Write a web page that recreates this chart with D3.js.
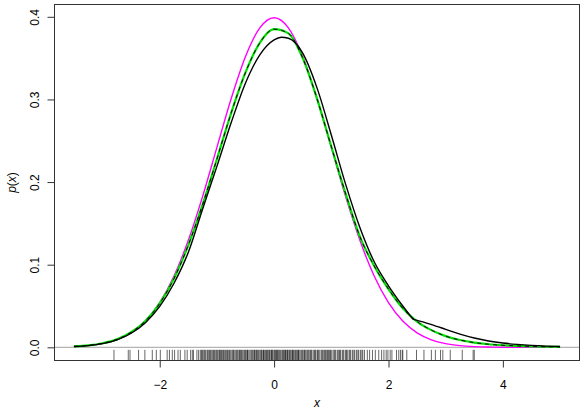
<!DOCTYPE html>
<html><head><meta charset="utf-8">
<script src="https://cdn.jsdelivr.net/npm/d3@7"></script>
<style>
body{margin:0;background:#fff;}
svg{display:block;font-family:"Liberation Sans",Arimo,Arial,Helvetica,sans-serif;}
</style></head>
<body>
<svg id="chart" width="581" height="411"></svg>
<script>
// ---- data ----
const xGrid = [-3.5,-3.25,-3,-2.75,-2.5,-2.25,-2,-1.75,-1.5,-1.25,-1,-0.75,-0.5,-0.25,0,
  0.25,0.5,0.75,1,1.25,1.5,1.75,2,2.25,2.5,2.75,3,3.25,3.5,3.75,4,4.25,4.5,4.75,5];
const magentaY = [0.00087,0.00203,0.00443,0.00909,0.01753,0.03174,0.05399,0.08628,0.12952,0.18265,0.24197,0.30114,0.35207,0.38667,0.39894,
  0.38667,0.35207,0.30114,0.24197,0.18265,0.12952,0.08628,0.05399,0.03174,0.01753,0.00909,0.00443,0.00203,0.00087,0.00035,0.00013,0.00005,0.00002,0.000005,0.0000015];
const greenY = [0.0011,0.0023,0.0049,0.0096,0.0182,0.0319,0.0532,0.0834,0.1238,0.1729,0.2279,0.2838,0.3327,0.3685,0.3850,
  0.3800,0.3500,0.3010,0.2430,0.1860,0.1340,0.0985,0.0705,0.0472,0.0312,0.0208,0.0135,0.0088,0.0057,0.0037,0.0025,0.0017,0.0011,0.0007,0.0005];
const blackX = [-3.5,-3.25,-3,-2.75,-2.5,-2.25,-2,-1.75,-1.5,-1.25,-1,-0.75,-0.5,-0.25,0,0.125,
  0.25,0.5,0.75,1,1.25,1.5,1.75,2,2.25,2.43,2.5,2.75,3,3.25,3.5,3.75,4,4.25,4.5,4.75,5];
const blackY = [0.0010,0.0021,0.0045,0.0090,0.0170,0.0298,0.0495,0.0775,0.1150,0.1675,0.2190,0.2720,0.3200,0.3540,0.3720,0.3752,
  0.3740,0.3560,0.3140,0.2570,0.1975,0.1450,0.1035,0.0745,0.0500,0.0338,0.0326,0.0275,0.0218,0.0160,0.0113,0.0077,0.0052,0.0035,0.0023,0.0015,0.0010];
const blackKinkX = 2.43;
const rugX = [-2.80,-2.55,-2.52,-2.37,-2.26,-2.13,-2.06,-1.99,-1.87,-1.83,-1.78,-1.74,-1.68,-1.64,-1.56,-1.52,-1.46,-1.43,-1.41,-1.35,-1.32,
  -1.29,-1.27,-1.24,-1.22,-1.19,-1.15,-1.13,-1.10,-1.08,-1.06,-1.03,-1.01,-0.98,-0.96,-0.95,-0.92,-0.90,-0.87,-0.85,-0.83,-0.80,-0.78,
  -0.74,-0.72,-0.70,-0.68,-0.66,-0.63,-0.61,-0.60,-0.57,-0.55,-0.53,-0.50,-0.48,-0.46,-0.44,-0.42,-0.40,-0.37,-0.35,-0.33,-0.31,-0.30,
  -0.27,-0.25,-0.23,-0.21,-0.19,-0.17,-0.15,-0.13,-0.11,-0.09,-0.07,-0.05,-0.04,-0.02,0.00,0.02,0.04,0.05,0.07,0.09,0.12,0.14,0.16,
  0.18,0.20,0.22,0.24,0.26,0.28,0.30,0.32,0.34,0.36,0.39,0.41,0.43,0.45,0.47,0.50,0.52,0.54,0.56,0.58,0.61,0.63,0.65,0.68,0.70,0.72,
  0.75,0.77,0.79,0.82,0.85,0.87,0.90,0.92,0.95,0.97,1.00,1.03,1.05,1.08,1.11,1.13,1.16,1.19,1.22,1.25,1.28,1.31,1.34,1.37,1.41,1.44,
  1.48,1.51,1.55,1.58,1.63,1.67,1.72,1.77,1.83,1.88,1.92,1.96,1.99,2.03,2.06,2.14,2.18,2.21,2.24,2.25,2.32,2.49,2.62,2.75,2.82,2.91,
  2.95,3.08,3.29,3.48,3.50,
  -1.255,-1.205,-1.165,-1.115,-1.045,-0.995,-0.935,-0.885,-0.815,-0.765,-0.715,-0.645,-0.585,-0.515,-0.465,-0.385,-0.345,-0.285,
  -0.225,-0.185,-0.125,-0.085,-0.035,0.015,0.065,0.105,0.155,0.195,0.235,0.275,0.325,0.375,0.425,0.485,0.535,0.595,0.645,0.715,
  0.765,0.835,0.885,0.935,0.985,1.065,1.145,1.205,1.265,1.325,1.395,1.465,1.535];
const xTicks = [-2,0,2,4];
const yTicks = [0,0.1,0.2,0.3,0.4];
const xDataRange = [-3.5,5];
const yDataRange = [0,0.39894];

// ---- layout ----
const svg = d3.select("#chart");
const L = 54.5, R = 579.5, T = 4.5, B = 360.5;
const xpad = (xDataRange[1]-xDataRange[0])*0.04, ypad = (yDataRange[1]-yDataRange[0])*0.04;
const x = d3.scaleLinear().domain([xDataRange[0]-xpad, xDataRange[1]+xpad]).range([L,R]);
const y = d3.scaleLinear().domain([yDataRange[0]-ypad, yDataRange[1]+ypad]).range([B,T]);

// zero line
svg.append("line").attr("x1",L).attr("x2",R).attr("y1",y(0)).attr("y2",y(0))
  .attr("stroke","#b4b4b4").attr("stroke-width",1.3);

// rug
const rugLen = (B-T)*0.03;
svg.append("g").selectAll("line").data(rugX).join("line")
  .attr("x1",d=>x(d)).attr("x2",d=>x(d)).attr("y1",B).attr("y2",B-rugLen)
  .attr("stroke","#000").attr("stroke-width",0.6);

const line = d3.line().x(d=>x(d[0])).y(d=>y(d[1])).curve(d3.curveMonotoneX);
const mag = xGrid.map((v,i)=>[v,magentaY[i]]);
const grn = xGrid.map((v,i)=>[v,greenY[i]]);
const blk = blackX.map((v,i)=>[v,blackY[i]]);
const blkA = blk.filter(d=>d[0]<=blackKinkX), blkB = blk.filter(d=>d[0]>=blackKinkX);

svg.append("path").attr("d",line(mag)).attr("fill","none").attr("stroke","#ff00ff").attr("stroke-width",1.4);
svg.append("path").attr("d",line(grn)).attr("fill","none").attr("stroke","#00e000").attr("stroke-width",2.2);
svg.append("path").attr("d",line(grn)).attr("fill","none").attr("stroke","#000").attr("stroke-width",1).attr("stroke-dasharray","4,4");
[blkA,blkB].forEach(s=>svg.append("path").attr("d",line(s)).attr("fill","none").attr("stroke","#000").attr("stroke-width",1.4));

// box
svg.append("rect").attr("x",L).attr("y",T).attr("width",R-L).attr("height",B-T)
  .attr("fill","none").attr("stroke","#333").attr("stroke-width",1);

// x axis
const gx = svg.append("g").attr("transform",`translate(0,${B})`)
  .call(d3.axisBottom(x).tickValues(xTicks).tickSize(7).tickPadding(13).tickFormat(d3.format("d")));
gx.select(".domain").remove();
gx.selectAll("line").attr("stroke","#333");
gx.selectAll("text").attr("font-size",12).attr("fill","#000").attr("font-family","Liberation Sans, Arial, sans-serif");

// y axis
const gy = svg.append("g").attr("transform",`translate(${L},0)`)
  .call(d3.axisLeft(y).tickValues(yTicks).tickSize(7).tickFormat(d3.format(".1f")));
gy.select(".domain").remove();
gy.selectAll("line").attr("stroke","#333");
gy.selectAll("text").attr("font-size",12).attr("fill","#000").attr("font-family","Liberation Sans, Arial, sans-serif")
  .attr("text-anchor","middle").attr("dy",null).attr("x",null)
  .attr("transform","translate(-16,0) rotate(-90)");

// axis titles
svg.append("text").attr("x",(L+R)/2).attr("y",407).attr("text-anchor","middle")
  .attr("font-size",12).attr("font-style","italic").text("x");
const yl = svg.append("text").attr("transform",`translate(16,${(T+B)/2}) rotate(-90)`)
  .attr("text-anchor","middle").attr("font-size",12);
yl.append("tspan").attr("font-style","italic").text("p");
yl.append("tspan").text("(");
yl.append("tspan").attr("font-style","italic").text("x");
yl.append("tspan").text(")");
</script>
</body></html>
